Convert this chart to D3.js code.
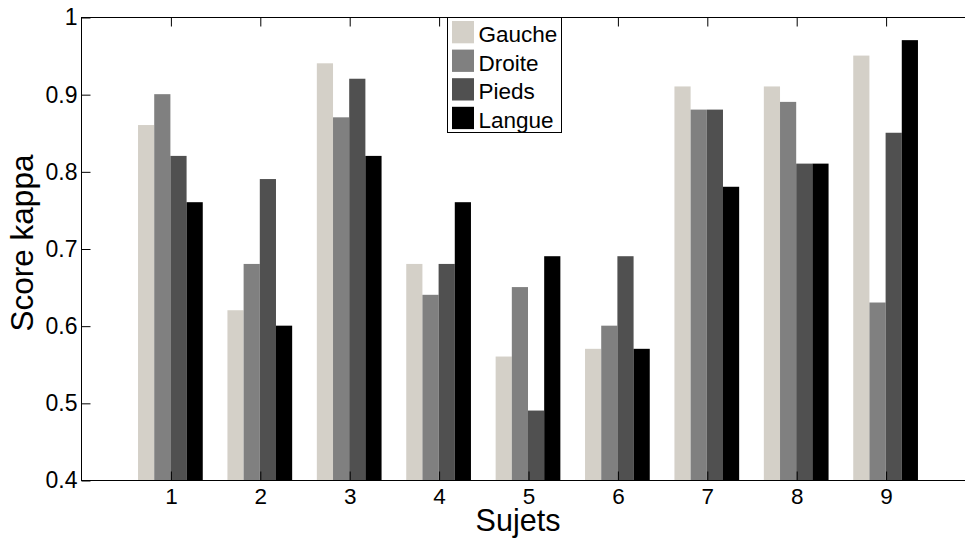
<!DOCTYPE html>
<html><head><meta charset="utf-8">
<script src="https://cdn.jsdelivr.net/npm/d3@7"></script>
<style>html,body{margin:0;padding:0;background:#fff;overflow:hidden}svg{display:block;font-family:"Liberation Sans",Arial,sans-serif}</style>
</head><body>
<svg id="c" width="965" height="541"></svg>
<script>
const categories = ["1","2","3","4","5","6","7","8","9"];
const seriesNames = ["Gauche","Droite","Pieds","Langue"];
const seriesColors = ["#d4d0c8","#808080","#505050","#000000"];
const gauche = [0.86,0.62,0.94,0.68,0.56,0.57,0.91,0.91,0.95];
const droite = [0.90,0.68,0.87,0.64,0.65,0.60,0.88,0.89,0.63];
const pieds  = [0.82,0.79,0.92,0.68,0.49,0.69,0.88,0.81,0.85];
const langue = [0.76,0.60,0.82,0.76,0.69,0.57,0.78,0.81,0.97];
const yTicks = [0.4,0.5,0.6,0.7,0.8,0.9,1];
const series = [gauche, droite, pieds, langue];

const FONT = "Liberation Sans, Arial, sans-serif";
const svg = d3.select("#c");
const L = 81, R = 975, T = 17, B = 480;
const x = d3.scaleLinear().domain([0,10]).range([L,R]);
const y = d3.scaleLinear().domain([0.4,1]).range([B,T]);
const groupW = 0.724; // in data units
const bw = groupW/4;

const g = svg.append("g");
series.forEach((vals, si) => {
  g.selectAll(null).data(vals).enter().append("rect")
    .attr("x", (d,i) => x(i+1 - groupW/2 + si*bw))
    .attr("width", x(bw) - x(0))
    .attr("y", d => y(d))
    .attr("height", d => y(0.4) - y(d))
    .attr("fill", seriesColors[si]);
});

// axes frame
const ax = svg.append("g").attr("stroke","#000").attr("stroke-width",1).attr("fill","none");
ax.append("line").attr("x1",L).attr("x2",R).attr("y1",B+0.5).attr("y2",B+0.5);
ax.append("line").attr("x1",L).attr("x2",R).attr("y1",T+0.5).attr("y2",T+0.5);
ax.append("line").attr("x1",L+0.5).attr("x2",L+0.5).attr("y1",T).attr("y2",B+1);

const xAxis = d3.axisBottom(x).tickValues(d3.range(1,10)).tickFormat((d,i)=>categories[i]).tickSizeInner(-9).tickSizeOuter(0).tickPadding(8);
const xg = svg.append("g").attr("transform",`translate(0.5,${B+0.5})`).call(xAxis);
xg.select(".domain").remove();
xg.selectAll("text").attr("font-size",22.5).attr("fill","#000").attr("font-family",FONT);
// top mirror ticks
const xTop = d3.axisTop(x).tickValues(d3.range(1,10)).tickFormat("").tickSizeInner(-9).tickSizeOuter(0);
const xt = svg.append("g").attr("transform",`translate(0.5,${T+0.5})`).call(xTop);
xt.select(".domain").remove();

const yAxis = d3.axisLeft(y).tickValues(yTicks).tickFormat(d => d===1?"1":d3.format(".1f")(d)).tickSizeInner(-9).tickSizeOuter(0).tickPadding(4);
const yg = svg.append("g").attr("transform",`translate(${L+0.5},0.5)`).call(yAxis);
yg.select(".domain").remove();
yg.selectAll("text").attr("font-size",23).attr("fill","#000").attr("font-family",FONT);
svg.selectAll(".tick line").attr("stroke","#000");

// labels
svg.append("text").attr("x",518).attr("y",531).attr("text-anchor","middle").attr("font-size",30.5).attr("font-family",FONT).text("Sujets");
svg.append("text").attr("transform",`translate(33,243) rotate(-90)`).attr("text-anchor","middle").attr("font-size",31.5).attr("font-family",FONT).text("Score kappa");

// legend
const lg = svg.append("g");
lg.append("rect").attr("x",447.5).attr("y",17.5).attr("width",114).attr("height",115).attr("fill","#fff").attr("stroke","#000");
seriesNames.forEach((n,i) => {
  const yy = 21 + i*28.6;
  lg.append("rect").attr("x",452).attr("y",yy).attr("width",22).attr("height",22.3).attr("fill",seriesColors[i]);
  lg.append("text").attr("x",478.5).attr("y",yy+21).attr("font-size",22.5).attr("font-family",FONT).text(n);
});
</script>
</body></html>
